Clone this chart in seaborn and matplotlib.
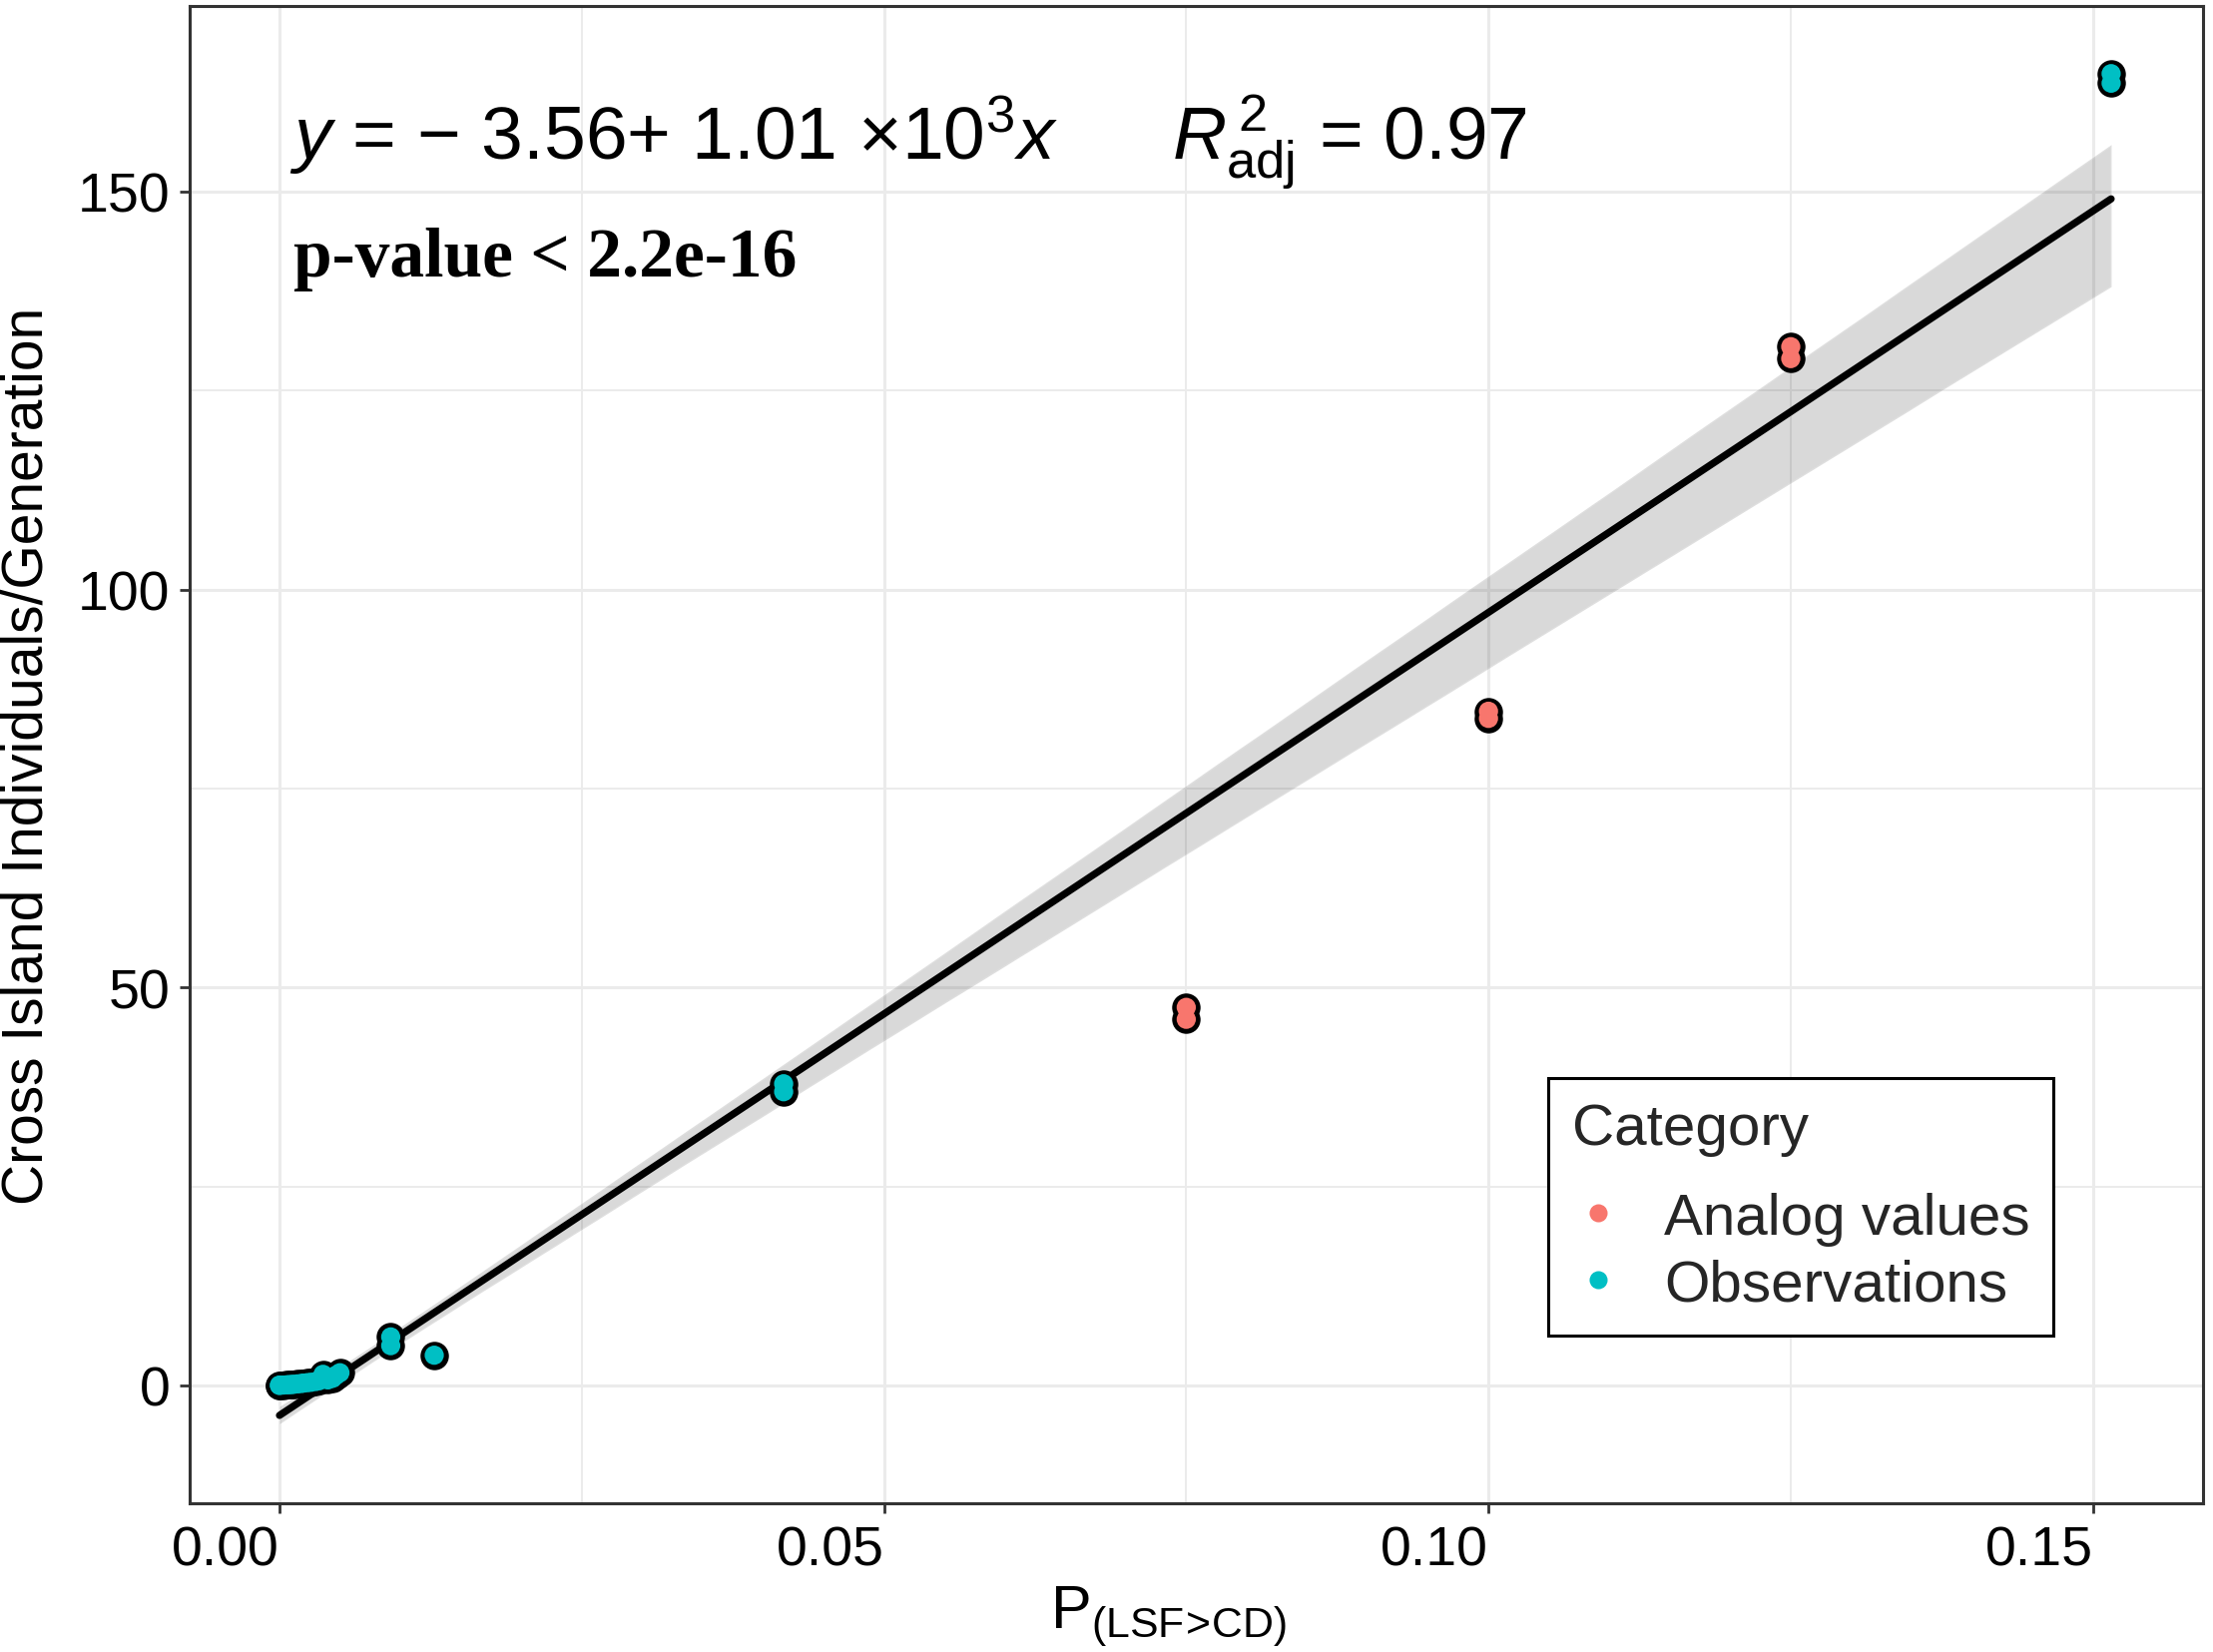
import matplotlib
matplotlib.use("Agg")
import matplotlib.pyplot as plt
from matplotlib.lines import Line2D
from matplotlib.ticker import MultipleLocator
import seaborn as sns
import pandas as pd

# ---------------- data ----------------
analog_x = [0.075, 0.075, 0.100, 0.100, 0.125, 0.125]
analog_y = [47.5, 46.0, 84.7, 83.8, 130.5, 129.0]

obs_x = [0.0000, 0.0000, 0.0003, 0.0006, 0.0008, 0.0010, 0.0012, 0.0015,
         0.0018, 0.0020, 0.0023, 0.0026, 0.0030, 0.0033, 0.0036, 0.0040,
         0.0044, 0.0047, 0.0050, 0.0092, 0.0092, 0.0128, 0.0417, 0.0417,
         0.1515, 0.1515]
obs_y = [0.00, 0.05, 0.05, 0.08, 0.10, 0.12, 0.15, 0.20,
         0.25, 0.30, 0.35, 0.40, 0.50, 0.60, 1.40, 0.70,
         0.90, 1.30, 1.60, 6.10, 5.00, 3.80, 37.9, 36.9,
         164.8, 163.6]

categories = ["Analog values", "Observations"]
palette_colors = ["#F8766D", "#00BFC4"]

x_ticks = [0.00, 0.05, 0.10, 0.15]
x_ticklabels = ["0.00", "0.05", "0.10", "0.15"]
y_ticks = [0, 50, 100, 150]
y_ticklabels = ["0", "50", "100", "150"]

eq_text = "$y$ = \u2212 3.56+ 1.01 \u00d710$^{3}x$"
r2_text = r"$R^{\,2}_{\mathrm{adj}}$ = 0.97"
p_text = "p-value < 2.2e-16"
x_label = r"$\mathrm{P}_{\mathrm{(LSF\!>\!CD)}}$"
y_label = "Cross Island Individuals/Generation"
legend_title = "Category"

df = pd.DataFrame({
    "x": analog_x + obs_x,
    "y": analog_y + obs_y,
    "Category": [categories[0]] * len(analog_x) + [categories[1]] * len(obs_x),
})

# ---------------- style ----------------
sns.set_theme(style="white")
plt.rcParams["font.family"] = ["Liberation Sans", "DejaVu Sans"]
plt.rcParams["mathtext.fontset"] = "custom"
plt.rcParams["mathtext.rm"] = "Liberation Sans"
plt.rcParams["mathtext.it"] = "Liberation Sans:italic"
plt.rcParams["mathtext.bf"] = "Liberation Sans:bold"

W, H, DPI = 2217, 1656, 200
fig = plt.figure(figsize=(W / DPI, H / DPI), dpi=DPI)
fig.patch.set_facecolor("white")
ax = fig.add_axes([190 / W, 1 - 1507 / H, (2207 - 190) / W, (1507 - 7) / H])

# regression line with CI band
sns.regplot(data=df, x="x", y="y", scatter=False, ax=ax, color="black",
            ci=80, seed=3, n_boot=2000,
            line_kws={"linewidth": 2.6, "zorder": 3})
for coll in ax.collections:
    coll.set_alpha(0.15)
    coll.set_zorder(2)

# points: black outline layer, then coloured fill layer
sns.scatterplot(data=df, x="x", y="y", color="black", ax=ax, s=105,
                linewidth=0, legend=False, zorder=4)
sns.scatterplot(data=df, x="x", y="y", hue="Category", hue_order=categories,
                palette=palette_colors, ax=ax, s=48, linewidth=0,
                legend=False, zorder=5)

# axes limits / ticks
ax.set_xlim(-0.00743, 0.1591)
ax.set_ylim(-14.8, 173.3)
ax.set_xticks(x_ticks)
ax.set_xticklabels(x_ticklabels, ha="right")
ax.set_yticks(y_ticks)
ax.set_yticklabels(y_ticklabels)
ax.xaxis.set_minor_locator(MultipleLocator(0.025))
ax.yaxis.set_minor_locator(MultipleLocator(25))

ax.grid(which="major", color="#EBEBEB", linewidth=1.1, zorder=0)
ax.grid(which="minor", color="#EBEBEB", linewidth=0.7, zorder=0)
ax.set_axisbelow(True)

ax.tick_params(axis="both", which="major", direction="out", length=3.6,
               width=1.0, color="#333333", labelsize=20, labelcolor="black",
               bottom=True, left=True)
ax.tick_params(axis="x", which="major", pad=4)
ax.tick_params(axis="y", which="major", pad=3.5)
ax.tick_params(which="minor", length=0, bottom=False, left=False)

for sp in ax.spines.values():
    sp.set_color("#333333")
    sp.set_linewidth(1.1)
    sp.set_visible(True)

ax.set_xlabel(x_label, fontsize=22, color="black")
ax.set_ylabel(y_label, fontsize=20.5, color="black")
ax.xaxis.set_label_coords(0.486, -0.054)
ax.yaxis.set_label_coords(-0.0674, 0.5)

# annotations
fig.text(290 / W, 1 - 160 / H, eq_text, fontsize=27, va="baseline",
         ha="left", color="black")
fig.text(1174 / W, 1 - 160 / H, r2_text, fontsize=27, va="baseline",
         ha="left", color="black")
fig.text(294 / W, 1 - 277 / H, p_text, fontsize=25, va="baseline", ha="left",
         color="black", family=["Liberation Serif", "DejaVu Serif"],
         fontweight="bold")

# legend
handles = [Line2D([0], [0], marker="o", linestyle="none", markersize=6.5,
                  markerfacecolor=c, markeredgewidth=0) for c in palette_colors]
leg = ax.legend(handles, categories, title=legend_title, loc="lower left",
                bbox_to_anchor=(0.675, 0.112), fontsize=21,
                title_fontsize=21, frameon=True, fancybox=False,
                edgecolor="black", framealpha=1, borderpad=0.4,
                labelspacing=0.22, handlelength=0.9, handletextpad=0.68,
                alignment="left", borderaxespad=0)
leg._legend_box.sep = 13
leg.get_frame().set_linewidth(1.1)

fig.savefig("out.png", dpi=DPI, facecolor="white")
